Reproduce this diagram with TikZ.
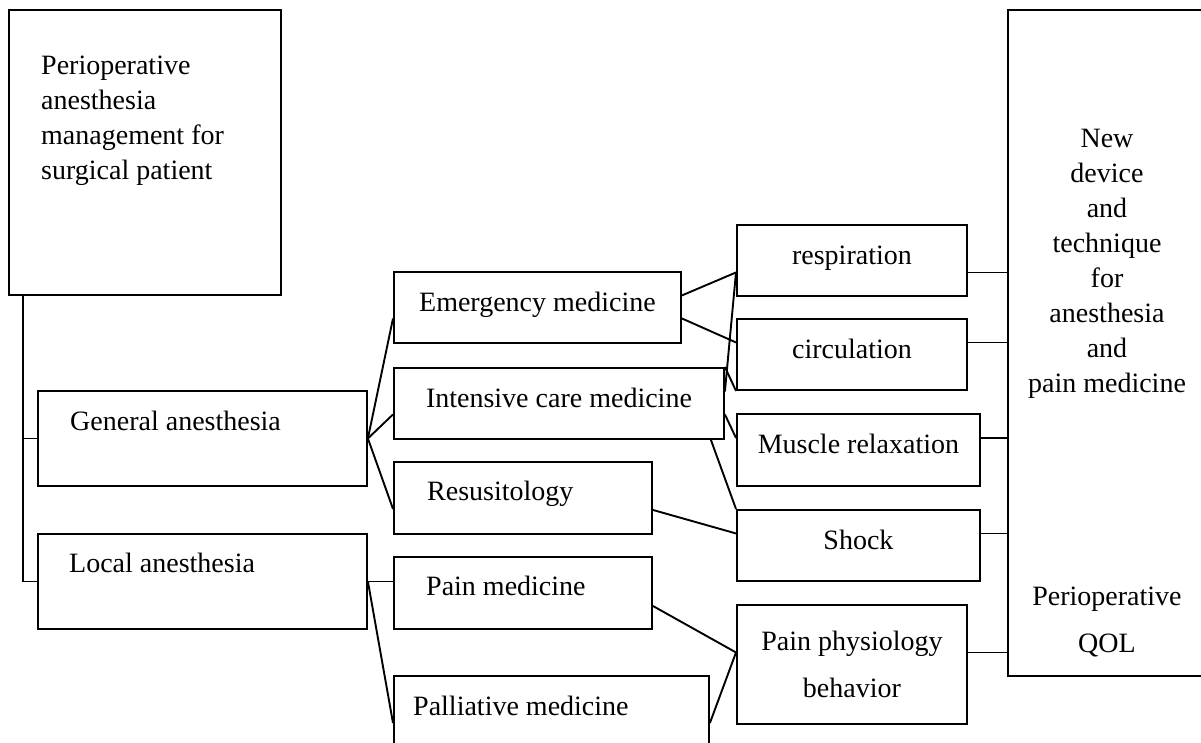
\documentclass[tikz,border=0pt]{standalone}
\usepackage{fontspec}
\setmainfont{Liberation Serif}
\usepackage{tikz}
\newcommand\chartfont{\fontsize{28}{35}\selectfont}
\tikzset{
  node-box/.style={draw,line width=1.9pt,inner sep=0pt,anchor=north west,font=\chartfont},
  node-line/.style={text height=18pt,text depth=10pt},
  node-text/.style={inner sep=0pt,font=\chartfont},
  link/.style={line width=1.9pt},
}
\begin{document}
\begin{tikzpicture}[x=1pt,y=-1pt]
  \useasboundingbox (0,0) rectangle (1201,743);
  \clip (0,0) rectangle (1201,743);
  % left column
  \node[node-box,minimum width=272pt,minimum height=285pt] (periop) at (8,9) {};
  \node[node-text,anchor=north west,align=left] at (41,56)
    {Perioperative\\anesthesia\\management for\\surgical patient};
  \node[node-box,minimum width=329pt,minimum height=95pt] (general) at (37,390) {};
  \node[node-text,anchor=base west] at (70,430) {General anesthesia};
  \node[node-box,minimum width=329pt,minimum height=95pt] (local) at (37,533) {};
  \node[node-text,anchor=base west] at (69,572) {Local anesthesia};
  % middle column
  \node[node-box,node-line,minimum width=287pt,minimum height=71pt] (emerg) at (393,271) {Emergency medicine};
  \node[node-box,node-line,minimum width=330pt,minimum height=71pt] (icu) at (393,367) {Intensive care medicine};
  \node[node-box,minimum width=258pt,minimum height=72pt] (resus) at (393,461) {};
  \node[node-text,anchor=base west] at (427,500) {Resusitology};
  \node[node-box,minimum width=258pt,minimum height=72pt] (painmed) at (393,556) {};
  \node[node-text,anchor=base west] at (426,595) {Pain medicine};
  \node[node-box,minimum width=315pt,minimum height=100pt] (palli) at (393,675) {};
  \node[node-text,anchor=base west] at (413,715) {Palliative medicine};
  % right column
  \node[node-box,node-line,minimum width=230pt,minimum height=71pt] (resp) at (736,224) {respiration};
  \node[node-box,node-line,minimum width=230pt,minimum height=71pt] (circ) at (736,318) {circulation};
  \node[node-box,node-line,minimum width=243pt,minimum height=72pt] (muscle) at (736,413) {Muscle relaxation};
  \node[node-box,node-line,minimum width=243pt,minimum height=71pt] (shock) at (736,509) {Shock};
  \node[node-box,minimum width=230pt,minimum height=119pt,align=center] (physio) at (736,604)
    {Pain physiology\\[12pt]behavior};
  \node[node-box,minimum width=230pt,minimum height=666pt] (device) at (1007,9) {};
  \node[node-text,align=center] at (1107,264)
    {New\\device\\and\\technique\\for\\anesthesia\\and\\pain medicine};
  \node[node-text,align=center] at (1107,622) {Perioperative\\[12pt]QOL};
  % connectors
  \coordinate (trunk) at ([xshift=15pt]periop.south west);
  \draw[link] (trunk) |- (local.west);
  \draw[link] (general.west) -- (general.west -| trunk);
  \foreach \dst in {emerg,icu,resus}
    \draw[link] (general.east) -- ([yshift=-11pt]\dst.west);
  \draw[link] (local.east) -- (local.east -| painmed.west);
  \draw[link] (local.east) -- ([yshift=-48pt]palli.north west);
  \draw[link] ([yshift=12pt]emerg.east) -- ([yshift=-12pt]resp.west);
  \draw[link] ([yshift=-11pt]emerg.east) -- ([yshift=12pt]circ.west);
  \draw[link] ([yshift=12pt]icu.east) -- ([yshift=-12pt]resp.west);
  \draw[link] (icu.north east) -- (circ.south west);
  \draw[link] ([yshift=-11pt]icu.east) -- ([yshift=12pt]muscle.west);
  \draw[link] ([xshift=-14pt]icu.south east) -- (shock.north west);
  \draw[link] ([yshift=-12pt]resus.east) -- ([yshift=12pt]shock.west);
  \draw[link] ([yshift=-13pt]painmed.east) -- ([yshift=12pt]physio.west);
  \draw[link] ([yshift=-48pt]palli.north east) -- ([yshift=12pt]physio.west);
  \draw[link] ([yshift=-12pt]resp.east) -- ([yshift=-12pt]resp.east -| device.west);
  \foreach \src in {circ,muscle,shock,physio}
    \draw[link] ([yshift=12pt]\src.east) -- ([yshift=12pt]\src.east -| device.west);
\end{tikzpicture}
\end{document}
